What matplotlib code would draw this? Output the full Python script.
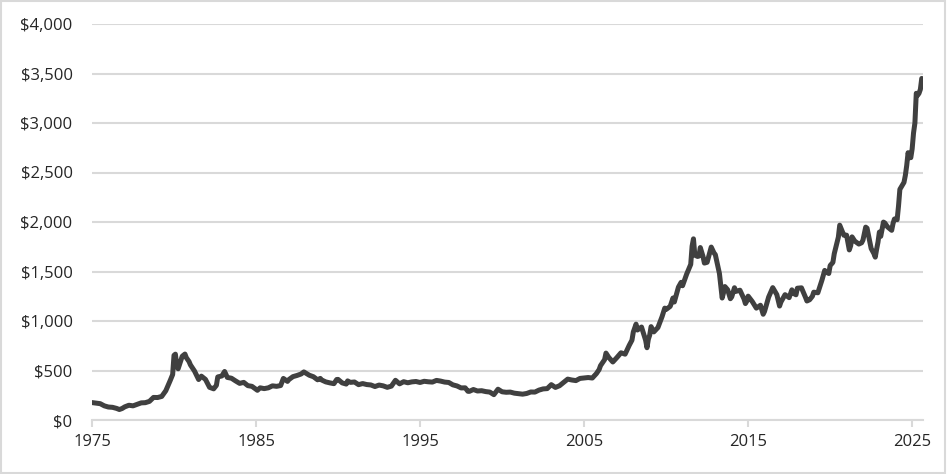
import pandas as pd
import matplotlib.pyplot as plt
from matplotlib.ticker import FuncFormatter

# Gold price, USD per ounce
dates = [
    "1975-01", "1975-04", "1975-07", "1975-10",
    "1976-01", "1976-04", "1976-07", "1976-09", "1976-11",
    "1977-01", "1977-04", "1977-07", "1977-10",
    "1978-01", "1978-04", "1978-07", "1978-10",
    "1979-01", "1979-04", "1979-07", "1979-10", "1979-12",
    "1980-01", "1980-02", "1980-03", "1980-04", "1980-06", "1980-07", "1980-09", "1980-10", "1980-12",
    "1981-01", "1981-04", "1981-07", "1981-09", "1981-12",
    "1982-03", "1982-06", "1982-08", "1982-09", "1982-12",
    "1983-02", "1983-04", "1983-07", "1983-10",
    "1984-01", "1984-04", "1984-07", "1984-10",
    "1985-02", "1985-04", "1985-07", "1985-10",
    "1986-01", "1986-04", "1986-07", "1986-09", "1986-12",
    "1987-01", "1987-04", "1987-07", "1987-10", "1987-12",
    "1988-01", "1988-04", "1988-07", "1988-10", "1988-12",
    "1989-01", "1989-04", "1989-07", "1989-10", "1989-12",
    "1990-01", "1990-04", "1990-07", "1990-08", "1990-10",
    "1991-01", "1991-04", "1991-07", "1991-10",
    "1992-01", "1992-04", "1992-07", "1992-10",
    "1993-01", "1993-04", "1993-07", "1993-10",
    "1994-01", "1994-04", "1994-07", "1994-10",
    "1995-01", "1995-04", "1995-07", "1995-10",
    "1996-01", "1996-04", "1996-07", "1996-10",
    "1997-01", "1997-04", "1997-07", "1997-10", "1997-12",
    "1998-01", "1998-04", "1998-07", "1998-10",
    "1999-01", "1999-04", "1999-07", "1999-10",
    "2000-01", "2000-04", "2000-07", "2000-10",
    "2001-01", "2001-04", "2001-07", "2001-10",
    "2002-01", "2002-04", "2002-07", "2002-10",
    "2003-01", "2003-04", "2003-07", "2003-10",
    "2004-01", "2004-04", "2004-07", "2004-10",
    "2005-01", "2005-04", "2005-07", "2005-10", "2005-12",
    "2006-01", "2006-04", "2006-05", "2006-07", "2006-10",
    "2007-01", "2007-04", "2007-07", "2007-10", "2007-12",
    "2008-01", "2008-03", "2008-04", "2008-07", "2008-10", "2008-11", "2008-12",
    "2009-01", "2009-02", "2009-04", "2009-07", "2009-10", "2009-12",
    "2010-01", "2010-04", "2010-06", "2010-07", "2010-10", "2010-12",
    "2011-01", "2011-04", "2011-07", "2011-08", "2011-09", "2011-10", "2011-12",
    "2012-01", "2012-02", "2012-04", "2012-05", "2012-07", "2012-10", "2012-12",
    "2013-01", "2013-04", "2013-06", "2013-07", "2013-08", "2013-10", "2013-12",
    "2014-01", "2014-03", "2014-04", "2014-07", "2014-10", "2014-11", "2014-12",
    "2015-01", "2015-04", "2015-07", "2015-10", "2015-12",
    "2016-01", "2016-04", "2016-07", "2016-10", "2016-12",
    "2017-01", "2017-04", "2017-07", "2017-09", "2017-10", "2017-12",
    "2018-01", "2018-04", "2018-07", "2018-08", "2018-10", "2018-12",
    "2019-01", "2019-04", "2019-07", "2019-09", "2019-10", "2019-12",
    "2020-01", "2020-03", "2020-04", "2020-07", "2020-08", "2020-10", "2020-11",
    "2021-01", "2021-03", "2021-04", "2021-05", "2021-07", "2021-10", "2021-12",
    "2022-01", "2022-03", "2022-04", "2022-07", "2022-09", "2022-10", "2022-11", "2022-12",
    "2023-01", "2023-02", "2023-04", "2023-05", "2023-07", "2023-10", "2023-11", "2023-12",
    "2024-01", "2024-02", "2024-03", "2024-04", "2024-07", "2024-08", "2024-09", "2024-10", "2024-11", "2024-12",
    "2025-01", "2025-02", "2025-03", "2025-04", "2025-05", "2025-06", "2025-07", "2025-08",
]
prices = [
    176, 170, 165, 143,
    131, 128, 117, 106, 116,
    133, 149, 143, 158,
    173, 175, 188, 228,
    227, 238, 296, 392, 459,
    653, 665, 553, 517, 600, 644, 666, 630, 590,
    557, 494, 409, 443, 410,
    330, 315, 350, 435, 445,
    490, 430, 422, 395,
    370, 380, 347, 340,
    300, 325, 317, 325,
    345, 340, 348, 420, 390,
    408, 438, 450, 465, 486,
    477, 452, 437, 406, 420,
    404, 385, 375, 367, 409,
    410, 375, 363, 395, 380,
    384, 357, 368, 358,
    354, 338, 353, 345,
    330, 342, 401, 365,
    387, 376, 385, 389,
    379, 391, 386, 383,
    400, 393, 383, 379,
    355, 344, 324, 325, 290,
    289, 308, 293, 296,
    287, 282, 256, 311,
    285, 280, 282, 271,
    266, 261, 268, 283,
    282, 302, 314, 317,
    357, 329, 346, 379,
    413, 404, 398, 420,
    424, 429, 424, 469, 510,
    549, 610, 676, 633, 586,
    631, 679, 665, 754, 806,
    889, 968, 909, 939, 806, 730, 816,
    858, 943, 890, 934, 1043, 1130,
    1117, 1148, 1232, 1192, 1342, 1391,
    1356, 1473, 1572, 1756, 1830, 1665, 1652,
    1656, 1742, 1651, 1585, 1593, 1747, 1688,
    1670, 1480, 1232, 1286, 1348, 1316, 1225,
    1244, 1336, 1299, 1311, 1222, 1176, 1200,
    1251, 1197, 1130, 1159, 1068,
    1097, 1242, 1337, 1266, 1151,
    1192, 1266, 1236, 1315, 1280, 1265,
    1331, 1335, 1238, 1202, 1215, 1250,
    1291, 1285, 1413, 1511, 1494, 1480,
    1560, 1592, 1680, 1847, 1968, 1900, 1866,
    1867, 1718, 1760, 1850, 1807, 1777, 1790,
    1817, 1948, 1937, 1732, 1681, 1645, 1725, 1797,
    1898, 1855, 1999, 1990, 1950, 1916, 1985, 2030,
    2033, 2023, 2160, 2330, 2400, 2470, 2570, 2700, 2650, 2650,
    2740, 2900, 3000, 3300, 3280, 3300, 3340, 3450,
]

yticks = [0, 500, 1000, 1500, 2000, 2500, 3000, 3500, 4000]
xticks = [1975, 1985, 1995, 2005, 2015, 2025]

d = pd.to_datetime(dates)
x = d.year + (d.month - 1) / 12.0

plt.rcParams["font.family"] = ["Open Sans", "DejaVu Sans"]

fig = plt.figure(figsize=(9.47, 4.74), dpi=100)
ax = fig.add_axes([92 / 947, 54 / 474, 831 / 947, 396 / 474])

ax.plot(x, prices, color="#404040", linewidth=3.6, solid_joinstyle="round",
        solid_capstyle="round", zorder=3)

ax.set_xlim(1975, 2025.66)
ax.set_ylim(0, 4000)
ax.set_yticks(yticks)
ax.set_xticks(xticks)
ax.yaxis.set_major_formatter(FuncFormatter(lambda v, p: "${:,.0f}".format(v)))

ax.grid(axis="y", color="#d9d9d9", linewidth=1.5, zorder=0)
for s in ["top", "right", "left"]:
    ax.spines[s].set_visible(False)
ax.spines["bottom"].set_color("#d9d9d9")
ax.spines["bottom"].set_linewidth(1.5)

ax.tick_params(axis="y", length=0, pad=14, labelsize=12, labelcolor="#262626")
ax.tick_params(axis="x", length=5, width=1.5, color="#d9d9d9", pad=5, labelsize=12, labelcolor="#262626")

# light border around the whole figure
fig.patches.append(plt.Rectangle((0.001, 0.002), 0.997, 0.996, transform=fig.transFigure,
                                 fill=False, edgecolor="#d9d9d9", linewidth=1.5))

plt.savefig("out.png", dpi=100)
